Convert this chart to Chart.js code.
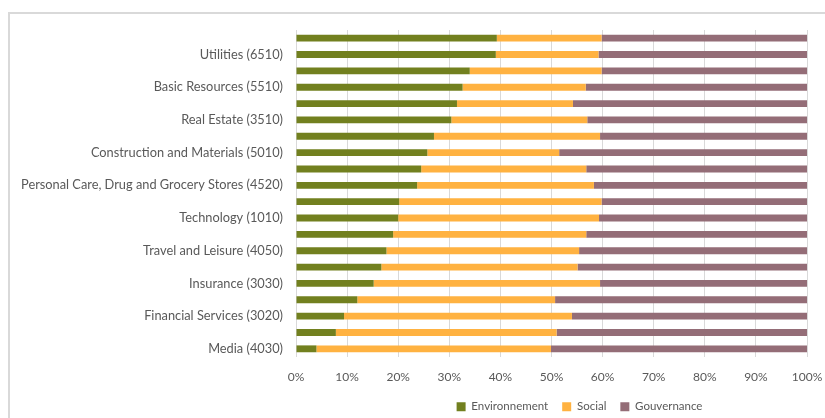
<!DOCTYPE html>
<html>
<head>
<meta charset="utf-8">
<script src="https://cdn.jsdelivr.net/npm/chart.js@4"></script>
<style>
  body { margin: 0; background: #fff; }
  #wrap { position: relative; width: 825px; height: 418px; overflow: hidden; }
  #frame { position: absolute; left: 8px; top: 12px; width: 900px; height: 500px; border: 2px solid #d9d9d9; box-sizing: border-box; }
  canvas { position: absolute; left: 0; top: 0; }
</style>
</head>
<body>
<div id="wrap">
  <div id="frame"></div>
  <canvas id="myChart" width="825" height="418"></canvas>
</div>
<script>
// bottom to top, as in the source chart
const sectors = [
  'Media (4030)',
  'Retail (4040)',
  'Financial Services (3020)',
  'Telecommunications (1510)',
  'Insurance (3030)',
  'Consumer Products and Services (4020)',
  'Travel and Leisure (4050)',
  'Banks (3010)',
  'Technology (1010)',
  'Health Care (2010)',
  'Personal Care, Drug and Grocery Stores (4520)',
  'Food, Beverage and Tobacco (4510)',
  'Construction and Materials (5010)',
  'Industrial Goods and Services (5020)',
  'Real Estate (3510)',
  'Automobiles and Parts (4010)',
  'Basic Resources (5510)',
  'Chemicals (5520)',
  'Utilities (6510)',
  'Energy (6010)',
];
const environnement = [4.0, 7.8, 9.4, 12.0, 15.2, 16.7, 17.7, 19.0, 20.0, 20.2, 23.7, 24.5, 25.7, 27.0, 30.4, 31.5, 32.6, 34.0, 39.1, 39.3];
const social = [45.9, 43.2, 44.6, 38.7, 44.3, 38.4, 37.7, 37.8, 39.3, 39.6, 34.6, 32.3, 25.8, 32.5, 26.6, 22.7, 24.1, 25.8, 20.1, 20.5];
const gouvernance = [50.1, 49.0, 46.0, 49.3, 40.5, 44.9, 44.6, 43.2, 40.7, 40.2, 41.7, 43.2, 48.5, 40.5, 43.0, 45.8, 43.3, 40.2, 40.8, 40.2];

const textColor = '#595959';

const mk = (label, data, color) => ({
  label,
  data,
  backgroundColor: color,
  borderWidth: 0,
  categoryPercentage: 1,
  barPercentage: 0.42,
});

// legend sits under the plot, a bit right of centre, like in Excel
const legendTweak = {
  id: 'legendTweak',
  beforeInit(chart) {
    const fit = chart.legend.fit;
    chart.legend.fit = function () {
      fit.call(this);
      this.height = 34;
    };
  },
  afterLayout(chart) {
    const lg = chart.legend;
    lg.left += 173;
    lg.right += 173;
    lg.top += 3;
    lg.bottom += 3;
  },
};

new Chart(document.getElementById('myChart'), {
  type: 'bar',
  data: {
    labels: sectors,
    datasets: [
      mk('Environnement', environnement, '#72801f'),
      mk('Social', social, '#ffb241'),
      mk('Gouvernance', gouvernance, '#946d77'),
    ],
  },
  plugins: [legendTweak],
  options: {
    responsive: false,
    animation: false,
    indexAxis: 'y',
    layout: { padding: { left: 6, right: 18, top: 30, bottom: 0 } },
    scales: {
      x: {
        stacked: true,
        min: 0,
        max: 100,
        afterFit: (scale) => {
          scale.height = 27;
          scale.paddingRight = 10;
        },
        ticks: {
          stepSize: 10,
          color: textColor,
          font: { family: 'Lato', size: 12 },
          padding: 12.6,
          callback: (v) => `${v}%`,
        },
        grid: { color: '#d9d9d9', drawTicks: false },
        border: { display: false },
      },
      y: {
        stacked: true,
        reverse: true,
        afterFit: (scale) => { scale.width = 290; },
        ticks: {
          autoSkip: false,
          color: textColor,
          font: { family: 'Lato', size: 12.8 },
          padding: 13,
          callback: (v, i) => (i % 2 === 0 ? sectors[i] : ''),
        },
        grid: { display: false, drawTicks: false },
        border: { display: false },
      },
    },
    plugins: {
      legend: {
        position: 'bottom',
        labels: {
          color: textColor,
          font: { family: 'Lato', size: 11.5 },
          boxWidth: 9,
          boxHeight: 9,
          padding: 14,
        },
      },
      tooltip: { enabled: false },
    },
  },
});
</script>
</body>
</html>
